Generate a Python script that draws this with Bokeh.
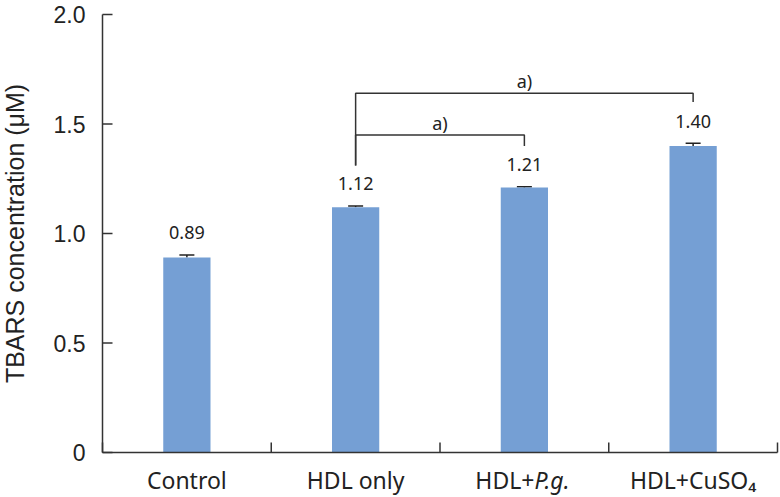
import numpy as np
from bokeh.plotting import figure
from bokeh.models import Range1d, Whisker, ColumnDataSource, TeeHead
from bokeh.core.properties import value
from bokeh.embed import file_html
from bokeh.resources import INLINE

# ---- data ----
categories = ["Control", "HDL only", "HDL+P.g.", "HDL+CuSO4"]
means = [0.89, 1.12, 1.21, 1.40]
errors = [0.012, 0.006, 0.003, 0.012]
value_labels = ["0.89", "1.12", "1.21", "1.40"]
y_ticks = [0, 0.5, 1.0, 1.5, 2.0]
y_tick_labels = ["0", "0.5", "1.0", "1.5", "2.0"]
y_title = "TBARS concentration (\u03bcM)"
# significance brackets: (from group, to group, bar height, right leg end)
brackets = [(1, 2, 1.45, 1.40), (1, 3, 1.64, 1.60)]
bracket_left_leg_bottom = 1.31
bracket_text = "a)"

# ---- style / layout (pixel geometry of the page) ----
BAR_COLOR = "#759fd4"
TEXT_COLOR = "#222222"
AXIS_COLOR = "#333333"
LABEL_FONT = "Noto Sans"
AXIS_FONT = "Liberation Sans"
W, H = 780, 497
X_AXIS_PX, X_END_PX = 102, 777         # pixel columns of the y axis and the right end of x axis
Y_TOP_PX, Y_ZERO_PX = 14, 452          # pixel rows of y=2.0 and y=0
Y_MAX = 2.0
n = len(categories)
py = Y_MAX / (Y_ZERO_PX - Y_TOP_PX)    # data units per pixel (y)
pxx = n / (X_END_PX - X_AXIS_PX)       # data units per pixel (x)

xs = np.arange(n) + 0.5
tops = [m + e for m, e in zip(means, errors)]

p = figure(width=W, height=H, output_backend="svg", toolbar_location=None,
           x_range=Range1d(-X_AXIS_PX * pxx, (W - X_AXIS_PX) * pxx),
           y_range=Range1d(-(H - Y_ZERO_PX) * py, Y_ZERO_PX * py),
           min_border=0)
p.outline_line_color = None
p.xgrid.grid_line_color = None
p.ygrid.grid_line_color = None
p.xaxis.visible = False
p.yaxis.visible = False

src = ColumnDataSource(dict(x=xs, top=means, upper=tops, lower=means))

p.vbar(x="x", top="top", bottom=0, width=0.28, source=src,
       fill_color=BAR_COLOR, line_color=None)

wh = Whisker(base="x", upper="upper", lower="lower", source=src, dimension="height",
             line_color=TEXT_COLOR, line_width=1.5,
             upper_head=TeeHead(size=15, line_color=TEXT_COLOR, line_width=1.5),
             lower_head=None)
p.add_layout(wh)

# value labels (centre of text ~22px above the error cap)
lab_y = [t + 22 * py for t in tops]
p.text(x=xs, y=lab_y, text=value_labels, text_align="center", text_baseline="middle",
       text_font=value(LABEL_FONT), text_font_size="18px", text_color=TEXT_COLOR)

# significance brackets
for (a, b, h, rb) in brackets:
    xa, xb = xs[a], xs[b]
    p.line(x=[xa, xa, xb, xb], y=[bracket_left_leg_bottom, h, h, rb],
           line_color=AXIS_COLOR, line_width=1.5)
    p.text(x=[(xa + xb) / 2], y=[h + 12 * py], text=[bracket_text], text_align="center",
           text_baseline="middle", text_font=value(LABEL_FONT), text_font_size="18px",
           text_color=TEXT_COLOR)

# ---- axes drawn in data space ----
# x axis: line + inward ticks at category boundaries
bounds = np.arange(n + 1)
p.segment(x0=[0], y0=[0], x1=[n], y1=[0], line_color=AXIS_COLOR, line_width=1.5)
p.segment(x0=bounds, y0=np.zeros(n + 1), x1=bounds, y1=np.full(n + 1, 10 * py),
          line_color=AXIS_COLOR, line_width=1.5)
# y axis: line + inward ticks + labels
p.segment(x0=[0], y0=[0], x1=[0], y1=[Y_MAX], line_color=AXIS_COLOR, line_width=1.5)
p.segment(x0=np.zeros(len(y_ticks)), y0=y_ticks, x1=np.full(len(y_ticks), 10 * pxx),
          y1=y_ticks, line_color=AXIS_COLOR, line_width=1.5)
p.text(x=np.full(len(y_ticks), -17 * pxx), y=y_ticks, text=y_tick_labels,
       text_align="right", text_baseline="middle", text_font=value(AXIS_FONT),
       text_font_size="23px", text_color=TEXT_COLOR)
# y title (rotated), centred on the 0..2 span
p.text(x=[-(X_AXIS_PX - 14) * pxx], y=[Y_MAX / 2], text=[y_title], angle=np.pi / 2,
       text_align="center", text_baseline="middle", text_font=value(AXIS_FONT),
       text_font_size="25px", text_color=TEXT_COLOR)

# category labels
lab_mid = -27 * py
common = dict(text_baseline="middle", text_font=value(LABEL_FONT),
              text_font_size="23px", text_color=TEXT_COLOR)
p.text(x=[xs[0], xs[1], xs[3]], y=[lab_mid] * 3,
       text=[categories[0], categories[1], "HDL+CuSO\u2084"], text_align="center", **common)
p.text(x=[xs[2]], y=[lab_mid], text=["HDL+"], text_align="right", x_offset=10, **common)
p.text(x=[xs[2]], y=[lab_mid], text=["P.g."], text_align="left", x_offset=10,
       text_font_style="italic", **common)

open("out.html", "w").write(file_html(p, INLINE))
